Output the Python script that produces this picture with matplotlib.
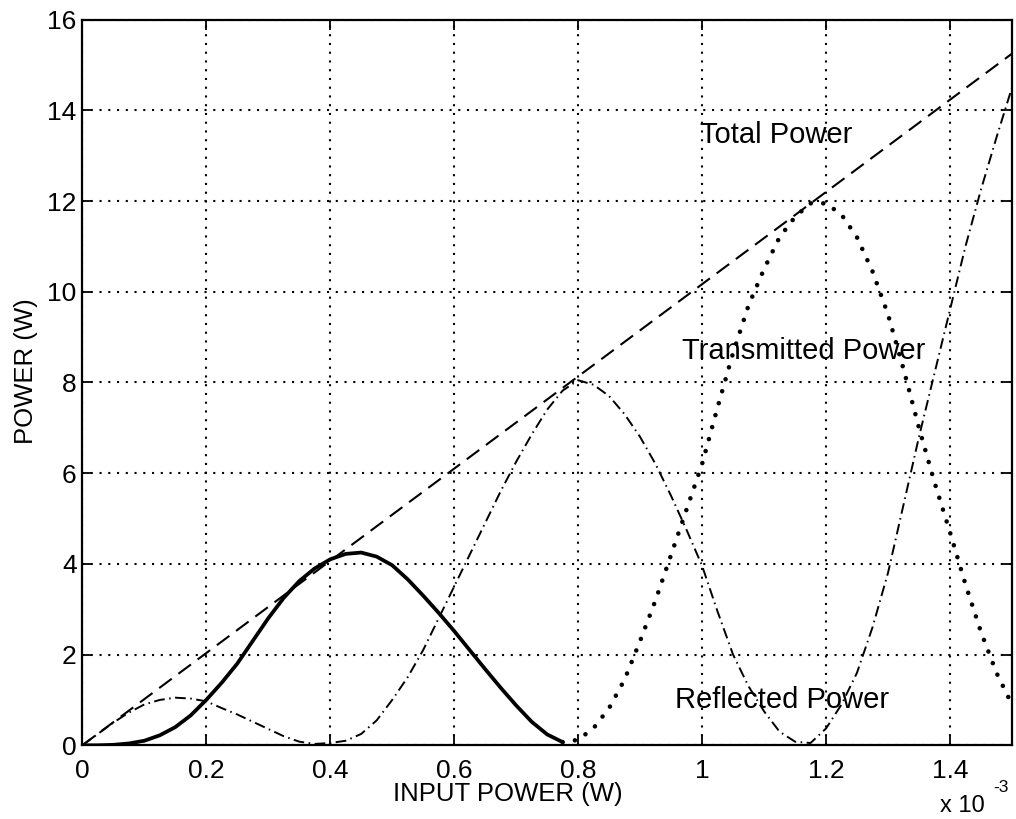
import numpy as np
from matplotlib import pyplot as plt

plt.rcParams['font.family'] = ['Liberation Sans', 'DejaVu Sans']

# input power samples, in units of 1e-3 W
input_power = np.linspace(0, 1.5, 61)

transmitted = [0.0, 0.0, 0.01, 0.04, 0.1, 0.22, 0.4, 0.66, 1.0, 1.38,
               1.8, 2.3, 2.8, 3.25, 3.62, 3.9, 4.1, 4.22, 4.25, 4.16,
               3.97, 3.66, 3.3, 2.92, 2.52, 2.1, 1.68, 1.27, 0.88, 0.52,
               0.24, 0.07, 0.12, 0.38, 0.82, 1.45, 2.3, 3.2, 4.2, 5.2,
               6.2, 7.45, 8.65, 9.7, 10.5, 11.2, 11.65, 11.95, 11.95, 11.7,
               11.2, 10.45, 9.5, 8.3, 7.0, 5.8, 4.7, 3.55, 2.5, 1.6,
               0.9]

reflected = [0.0, 0.25, 0.5, 0.72, 0.9, 1.0, 1.05, 1.03, 0.97, 0.82,
             0.68, 0.52, 0.36, 0.2, 0.08, 0.03, 0.05, 0.1, 0.25, 0.55,
             1.0, 1.5, 2.1, 2.8, 3.5, 4.2, 4.9, 5.6, 6.25, 6.85,
             7.4, 7.82, 8.05, 7.95, 7.7, 7.3, 6.8, 6.2, 5.5, 4.75,
             3.96, 2.95, 2.0, 1.3, 0.75, 0.3, 0.08, 0.05, 0.37, 0.9,
             1.6, 2.6, 3.8, 5.3, 6.8, 8.2, 9.6, 11.0, 12.25, 13.4,
             14.5]

total_x = [0.0, 1.5]
total_y = [0.0, 15.25]

split = 31  # first transmission minimum, solid before / dotted after

fig = plt.figure(figsize=(10.16, 8.19), dpi=100)
ax = fig.add_axes([0.081, 0.090, 0.915, 0.886])

x = input_power * 1e-3
ax.plot(np.array(total_x) * 1e-3, total_y, color='black', lw=1.5,
        linestyle=(0, (7.5, 4)))
ax.plot(x, reflected, color='black', lw=1.4,
        linestyle=(0, (5.5, 2.3, 0.8, 2.3)))
ax.plot(x[:split + 1], transmitted[:split + 1], color='black', lw=2.7,
        solid_capstyle='round', solid_joinstyle='round')
ax.plot(x[split:], transmitted[split:], color='black', lw=3.3,
        linestyle=(0, (0.01, 2.7)), dash_capstyle='round')

ax.set_xlim(0, 1.5e-3)
ax.set_ylim(0, 16)
ax.set_xticks(np.arange(0, 1.41e-3, 0.2e-3))
ax.set_xticklabels(['0', '0.2', '0.4', '0.6', '0.8', '1', '1.2', '1.4'])
ax.set_yticks(range(0, 17, 2))

ax.grid(True, color='black', linestyle=(0, (1, 3.2)), linewidth=1.5)
for s in ax.spines.values():
    s.set_linewidth(1.6)
ax.tick_params(direction='in', length=7, width=1.3, top=True, right=True,
               labelsize=19)
ax.tick_params(axis='x', pad=10)
ax.tick_params(axis='y', pad=4)

ax.set_xlabel('INPUT POWER (W)', fontsize=18.5)
ax.xaxis.set_label_coords(0.458, -0.050)
ax.set_ylabel('POWER (W)', fontsize=18.5)
ax.yaxis.set_label_coords(-0.048, 0.516)

ax.text(0.997e-3, 13.45, 'Total Power', fontsize=21, va='center')
ax.text(0.968e-3, 8.7, 'Transmitted Power', fontsize=21, va='center')
ax.text(0.956e-3, 1.0, 'Reflected Power', fontsize=21, va='center')

fig.text(0.925, 0.008, 'x 10', fontsize=17, ha='left', va='baseline')
fig.text(0.978, 0.033, '-3', fontsize=12.5, ha='left', va='baseline')

fig.savefig('out.png', dpi=100)
